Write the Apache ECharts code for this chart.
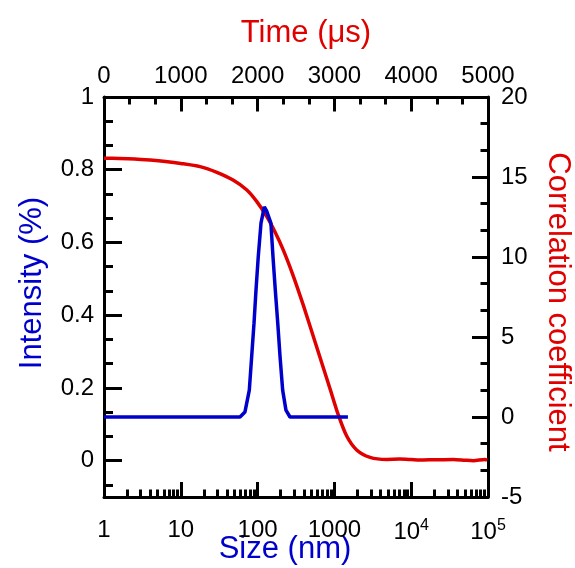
<!DOCTYPE html>
<html>
<head>
<meta charset="utf-8">
<script src="https://cdn.jsdelivr.net/npm/echarts@6/dist/echarts.min.js"></script>
<style>
html,body{margin:0;padding:0;background:#fff;}
#chart{width:575px;height:568px;}
</style>
</head>
<body>
<div id="chart"></div>
<script>
// ---- Data ----
// Blue: intensity distribution vs size (nm), log bottom axis
const sizeNm = [1, 2, 5, 10, 20, 50, 59, 68.5, 78, 83.7, 89.8, 95.3, 102, 110.7, 122.3, 131, 149, 158.6, 170, 183, 196, 212, 234, 264, 500, 1000, 1500];
const intensity = [0.12, 0.12, 0.12, 0.12, 0.12, 0.12, 0.12, 0.134, 0.194, 0.286, 0.378, 0.469, 0.561, 0.653, 0.698, 0.687, 0.653, 0.561, 0.469, 0.378, 0.286, 0.194, 0.139, 0.12, 0.12, 0.12, 0.12];
// Red: correlation coefficient vs time (us), top axis
const timeUs = [0, 200, 400, 600, 800, 1000, 1250, 1470, 1680, 1860, 1990, 2120, 2227, 2335, 2465, 2595, 2704, 2812, 2943, 3051, 3160, 3290, 3464, 3680, 3850, 4000, 4110, 4300, 4550, 4700, 4810, 4960, 4990];
const corr = [16.17, 16.16, 16.13, 16.06, 15.97, 15.85, 15.65, 15.29, 14.81, 14.19, 13.46, 12.52, 11.56, 10.43, 8.81, 6.99, 5.36, 3.74, 1.77, 0.13, -1.19, -2.06, -2.52, -2.65, -2.63, -2.66, -2.69, -2.67, -2.65, -2.7, -2.73, -2.65, -2.7];

// ---- Ticks ----
const leftMajorTicks = [0, 0.2, 0.4, 0.6, 0.8, 1];
const leftMinorTicks = [-0.0667, 0.0667, 0.1333, 0.2667, 0.3333, 0.4667, 0.5333, 0.6667, 0.7333, 0.8667, 0.9333];
const sizeDecades = [1, 10, 100, 1000, 10000, 100000];
const sizeMinorMultipliers = [2, 3, 4, 5, 6, 7, 8, 9];
const timeRange = [0, 5000];
const corrRange = [-5, 20];

// minor tick positions on a log10 overlay axis
const sizeMinorLog = [];
for (let d = 0; d < 5; d++) {
  sizeMinorMultipliers.forEach(m => sizeMinorLog.push(Math.log10(m * Math.pow(10, d))));
}

const RED = '#e00000';
const BLUE = '#0000cc';
const FONT = '"Liberation Sans", Arial, Helvetica, sans-serif';
const lineStyle = { color: '#000', width: 3 };
const labelBase = { color: '#000', fontSize: 24, fontFamily: FONT };

const chart = echarts.init(document.getElementById('chart'), null, { renderer: 'canvas' });

const option = {
  backgroundColor: '#fff',
  animation: false,
  grid: { left: 104, top: 97, width: 384, height: 400, containLabel: false },
  xAxis: [
    { // bottom log size axis
      type: 'log', logBase: 10, min: sizeDecades[0], max: sizeDecades[sizeDecades.length - 1], position: 'bottom',
      axisLine: { show: true, onZero: false, lineStyle: lineStyle },
      axisTick: { show: true, inside: true, length: 15, lineStyle: { color: '#000', width: 3 } },
      minorTick: { show: false },
      splitLine: { show: false },
      axisLabel: {
        ...labelBase, margin: 21,
        formatter: function (v) {
          const e = Math.round(Math.log10(v));
          if (e >= 4) return '{b|10}{s|' + e + '}';
          return '{b|' + String(Math.round(v)) + '}';
        },
        rich: {
          b: { fontSize: 24, fontFamily: FONT, color: '#000' },
          s: { fontSize: 16, fontFamily: FONT, color: '#000', verticalAlign: 'top', padding: [0, 0, 12, 0] }
        }
      }
    },
    { // top time axis
      type: 'value', min: timeRange[0], max: timeRange[1], interval: 1000, position: 'top',
      axisLine: { show: true, onZero: false, lineStyle: lineStyle },
      axisTick: { show: true, inside: true, length: 14.5, lineStyle: { color: '#000', width: 3 } },
      minorTick: { show: true, splitNumber: 3, length: 7.5, lineStyle: { color: '#000', width: 3 } },
      splitLine: { show: false },
      axisLabel: { ...labelBase, margin: 9, formatter: v => String(v) }
    },
    { // overlay: minor log ticks on bottom
      type: 'value', min: 0, max: 5, position: 'bottom',
      axisLine: { show: false, onZero: false },
      axisTick: { show: true, inside: true, length: 7.5, customValues: sizeMinorLog, lineStyle: { color: '#000', width: 3 } },
      axisLabel: { show: false },
      splitLine: { show: false }
    }
  ],
  yAxis: [
    { // left intensity axis
      type: 'value', min: -0.1, max: 1, position: 'left',
      axisLine: { show: true, onZero: false, lineStyle: lineStyle },
      axisTick: { show: true, inside: true, length: 18, customValues: leftMajorTicks, lineStyle: { color: '#000', width: 3 } },
      splitLine: { show: false },
      axisLabel: { ...labelBase, margin: 10, customValues: leftMajorTicks,
        formatter: v => String(Math.round(v * 10) / 10) }
    },
    { // overlay minor ticks on left
      type: 'value', min: -0.1, max: 1, position: 'left',
      axisLine: { show: false, onZero: false },
      axisTick: { show: true, inside: true, length: 9, customValues: leftMinorTicks, lineStyle: { color: '#000', width: 3 } },
      axisLabel: { show: false },
      splitLine: { show: false }
    },
    { // right correlation axis
      type: 'value', min: corrRange[0], max: corrRange[1], interval: 5, position: 'right',
      axisLine: { show: true, onZero: false, lineStyle: lineStyle },
      axisTick: { show: true, inside: true, length: 16, lineStyle: { color: '#000', width: 3 } },
      minorTick: { show: true, splitNumber: 3, length: 7.5, lineStyle: { color: '#000', width: 3 } },
      splitLine: { show: false },
      axisLabel: { ...labelBase, margin: 13 }
    }
  ],
  series: [
    {
      name: 'Correlation', type: 'line', xAxisIndex: 1, yAxisIndex: 2,
      data: timeUs.map((t, i) => [t, corr[i]]),
      showSymbol: false, symbol: 'none', smooth: 0.25,
      lineStyle: { color: RED, width: 3.5 }, z: 2
    },
    {
      name: 'Intensity', type: 'line', xAxisIndex: 0, yAxisIndex: 0,
      data: sizeNm.map((s, i) => [s, intensity[i]]),
      showSymbol: false, symbol: 'none',
      lineStyle: { color: BLUE, width: 3.5 }, z: 3
    }
  ],
  graphic: [
    { type: 'text', x: 306, y: 33, style: { text: 'Time (\u03bcs)', fill: RED, fontSize: 31, fontFamily: FONT, align: 'center', verticalAlign: 'middle', textAlign: 'center', textVerticalAlign: 'middle' } },
    { type: 'text', x: 285, y: 549, style: { text: 'Size (nm)', fill: BLUE, fontSize: 31, fontFamily: FONT, align: 'center', verticalAlign: 'middle', textAlign: 'center', textVerticalAlign: 'middle' } },
    { type: 'text', x: 32, y: 283, rotation: Math.PI / 2, style: { text: 'Intensity (%)', fill: BLUE, fontSize: 31, fontFamily: FONT, align: 'center', verticalAlign: 'middle', textAlign: 'center', textVerticalAlign: 'middle' } },
    { type: 'text', x: 558, y: 302, rotation: -Math.PI / 2, style: { text: 'Correlation coefficient', fill: RED, fontSize: 31, fontFamily: FONT, align: 'center', verticalAlign: 'middle', textAlign: 'center', textVerticalAlign: 'middle' } }
  ]
};
chart.setOption(option);
</script>
</body>
</html>
